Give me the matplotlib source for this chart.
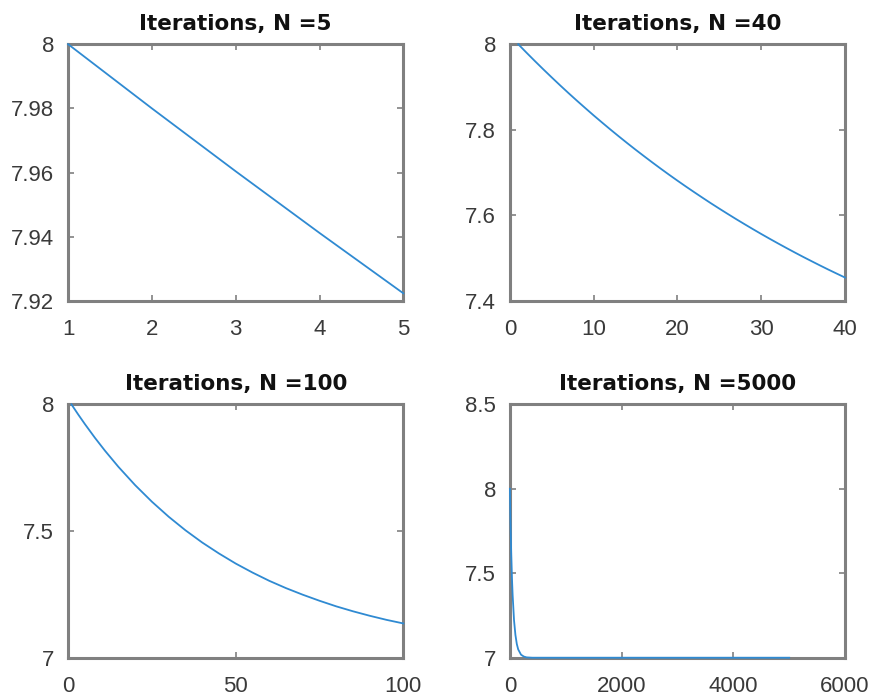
import matplotlib
matplotlib.use("Agg")
import matplotlib.pyplot as plt

# values
n5_x = [1, 2, 3, 4, 5]
n5_y = [8.0, 7.980, 7.9604, 7.9412, 7.9224]

n40_x = list(range(1, 41))
n40_y = [8.0, 7.98, 7.9604, 7.9412, 7.9224, 7.9039, 7.8858, 7.8681, 7.8508, 7.8337,
         7.8171, 7.8007, 7.7847, 7.769, 7.7536, 7.7386, 7.7238, 7.7093, 7.6951, 7.6812,
         7.6676, 7.6543, 7.6412, 7.6283, 7.6158, 7.6035, 7.5914, 7.5796, 7.568, 7.5566,
         7.5455, 7.5346, 7.5239, 7.5134, 7.5031, 7.4931, 7.4832, 7.4735, 7.4641, 7.4548]

n100_x = [1, 3, 5, 8, 11, 15, 20, 25, 30, 35, 40, 45, 50, 55, 60, 65, 70, 75, 80, 85, 90, 95, 100]
n100_y = [8.0, 7.9604, 7.9224, 7.8681, 7.8171, 7.7536, 7.6812, 7.6158, 7.5566, 7.5031,
          7.4548, 7.4115, 7.3717, 7.3362, 7.3036, 7.2747, 7.2487, 7.2248, 7.2027, 7.1832,
          7.1655, 7.1494, 7.1353]

n5000_x = [1, 10, 25, 40, 50, 75, 100, 125, 150, 200, 250, 300, 400, 5000]
n5000_y = [8.0, 7.834, 7.616, 7.454, 7.372, 7.222, 7.135, 7.081, 7.049, 7.018, 7.007, 7.002, 7.0, 7.0]

panels = [
    ("Iterations, N =5", n5_x, n5_y, (1, 5), (7.92, 8.0),
     [1, 2, 3, 4, 5], [7.92, 7.94, 7.96, 7.98, 8.0], ["7.92", "7.94", "7.96", "7.98", "8"]),
    ("Iterations, N =40", n40_x, n40_y, (0, 40), (7.4, 8.0),
     [0, 10, 20, 30, 40], [7.4, 7.6, 7.8, 8.0], ["7.4", "7.6", "7.8", "8"]),
    ("Iterations, N =100", n100_x, n100_y, (0, 100), (7.0, 8.0),
     [0, 50, 100], [7.0, 7.5, 8.0], ["7", "7.5", "8"]),
    ("Iterations, N =5000", n5000_x, n5000_y, (0, 6000), (7.0, 8.5),
     [0, 2000, 4000, 6000], [7.0, 7.5, 8.0, 8.5], ["7", "7.5", "8", "8.5"]),
]

# axes rectangles in figure fractions
rects = [
    [0.078, 0.5675, 0.384, 0.369],
    [0.584, 0.5675, 0.384, 0.369],
    [0.078, 0.055, 0.384, 0.364],
    [0.584, 0.055, 0.384, 0.364],
]

plt.rcParams['font.family'] = ['Liberation Sans', 'DejaVu Sans']

fig = plt.figure(figsize=(8.73, 6.96), dpi=100)
fig.patch.set_facecolor('white')

line_color = '#2f8ad2'
edge = '#808080'
text_color = '#3a3a3a'

for (title, xs, ys, xl, yl, xt, yt, ytl), r in zip(panels, rects):
    ax = fig.add_axes(r)
    ax.plot(xs, ys, color=line_color, linewidth=1.3, clip_on=False, zorder=3)
    ax.set_xlim(*xl)
    ax.set_ylim(*yl)
    ax.set_xticks(xt)
    ax.set_xticklabels([str(v) for v in xt])
    ax.set_yticks(yt)
    ax.set_yticklabels(ytl)
    ax.tick_params(direction='in', length=4, width=1.2, color=edge,
                   top=True, right=True, labelsize=16, labelcolor=text_color)
    ax.tick_params(axis='x', pad=13)
    ax.tick_params(axis='y', pad=10)
    for s in ax.spines.values():
        s.set_color(edge)
        s.set_linewidth(2.2)
    ax.set_title(title, fontsize=15.5, fontweight='bold', color='#111111', pad=10,
                 family='DejaVu Sans')

fig.savefig('out.png', dpi=100)
